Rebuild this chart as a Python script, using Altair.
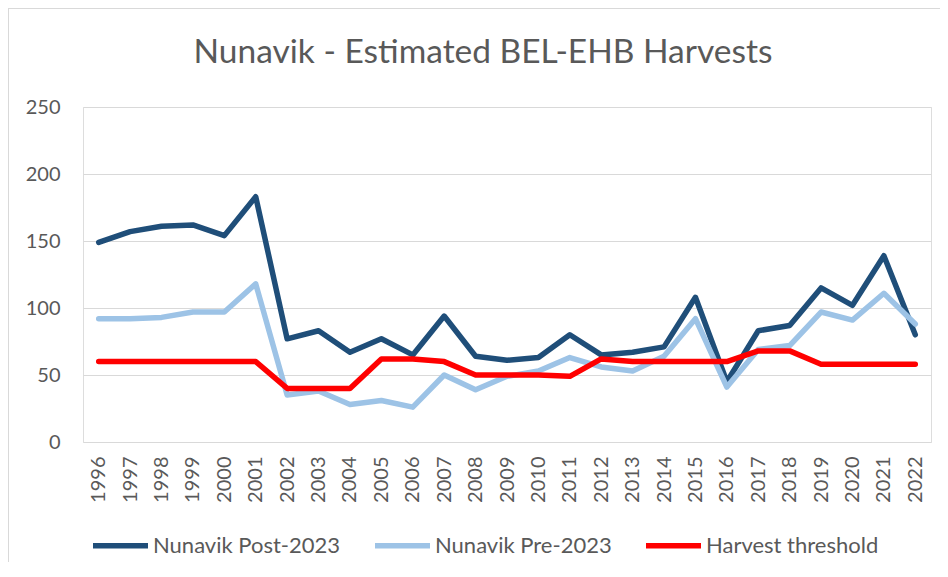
import altair as alt
import pandas as pd

years = [str(y) for y in range(1996, 2023)]
post_2023 = [149, 157, 161, 162, 154, 183, 77, 83, 67, 77, 65, 94, 64, 61, 63, 80,
             65, 67, 71, 108, 45, 83, 87, 115, 102, 139, 80]
pre_2023 = [92, 92, 93, 97, 97, 118, 35, 38, 28, 31, 26, 50, 39, 49, 53, 63,
            56, 53, 64, 92, 41, 69, 72, 97, 91, 111, 88]
threshold = [60, 60, 60, 60, 60, 60, 40, 40, 40, 62, 62, 60, 50, 50, 50, 49,
             62, 60, 60, 60, 60, 68, 68, 58, 58, 58, 58]

series_names = ["Nunavik Post-2023", "Nunavik Pre-2023", "Harvest threshold"]
series_colors = ["#1F4E79", "#9DC3E6", "#FF0000"]
title_text = "Nunavik - Estimated BEL-EHB Harvests"

rows = []
for name, vals in zip(series_names, [post_2023, pre_2023, threshold]):
    for y, v in zip(years, vals):
        rows.append({"Year": y, "Value": v, "Series": name})
df = pd.DataFrame(rows)

FONT = "Lato"
TXT = "#595959"

color = alt.Color(
    "Series:N",
    scale=alt.Scale(domain=series_names, range=series_colors),
    legend=alt.Legend(
        title=None, orient="none", direction="horizontal",
        legendX=7, legendY=408,
        symbolType="stroke", symbolSize=3025, symbolStrokeWidth=5.5,
        labelFontSize=22, labelFont=FONT, labelColor=TXT, labelLimit=400,
        columnPadding=23, labelOffset=2,
    ),
)

x = alt.X("Year:O", sort=years, title=None,
          axis=alt.Axis(labelAngle=-90, labelFontSize=20, labelFont=FONT, labelColor=TXT,
                        ticks=False, domain=False, labelPadding=14, grid=False))
y = alt.Y("Value:Q", title=None, scale=alt.Scale(domain=[0, 250], nice=False),
          axis=alt.Axis(values=[0, 50, 100, 150, 200, 250], labelFontSize=20, labelFont=FONT,
                        labelColor=TXT, ticks=False, domain=False, labelPadding=23,
                        grid=True, gridColor="#D9D9D9", gridWidth=1))

layers = []
for name in series_names:
    layers.append(
        alt.Chart(df).transform_filter(alt.datum.Series == name)
        .mark_line(strokeWidth=5.5, strokeCap="round", strokeJoin="round")
        .encode(x=x, y=y, color=color)
    )

border = alt.Chart(df).mark_rule(color="#D9D9D9", strokeWidth=1).encode(
    x=alt.value(-74.5), x2=alt.value(860), y=alt.value(-98.5), y2=alt.value(-98.5)
)
border_left = alt.Chart(df).mark_rule(color="#D9D9D9", strokeWidth=1).encode(
    x=alt.value(-74.5), y=alt.value(-98.5), y2=alt.value(460)
)
title = alt.Chart(pd.DataFrame({"t": [title_text]})).mark_text(
    font=FONT, fontSize=33.5, color=TXT, align="center", baseline="alphabetic"
).encode(text="t:N", x=alt.value(400), y=alt.value(-44))

chart = alt.layer(border, border_left, title, *layers).properties(
    width=848, height=335,
    autosize=alt.AutoSizeParams(type="none"),
    padding={"left": 75, "top": 99, "right": 9, "bottom": 120},
).configure_view(stroke=None).configure(background="white")

chart.save("out.html", embed_options={"renderer": "svg", "actions": False})
